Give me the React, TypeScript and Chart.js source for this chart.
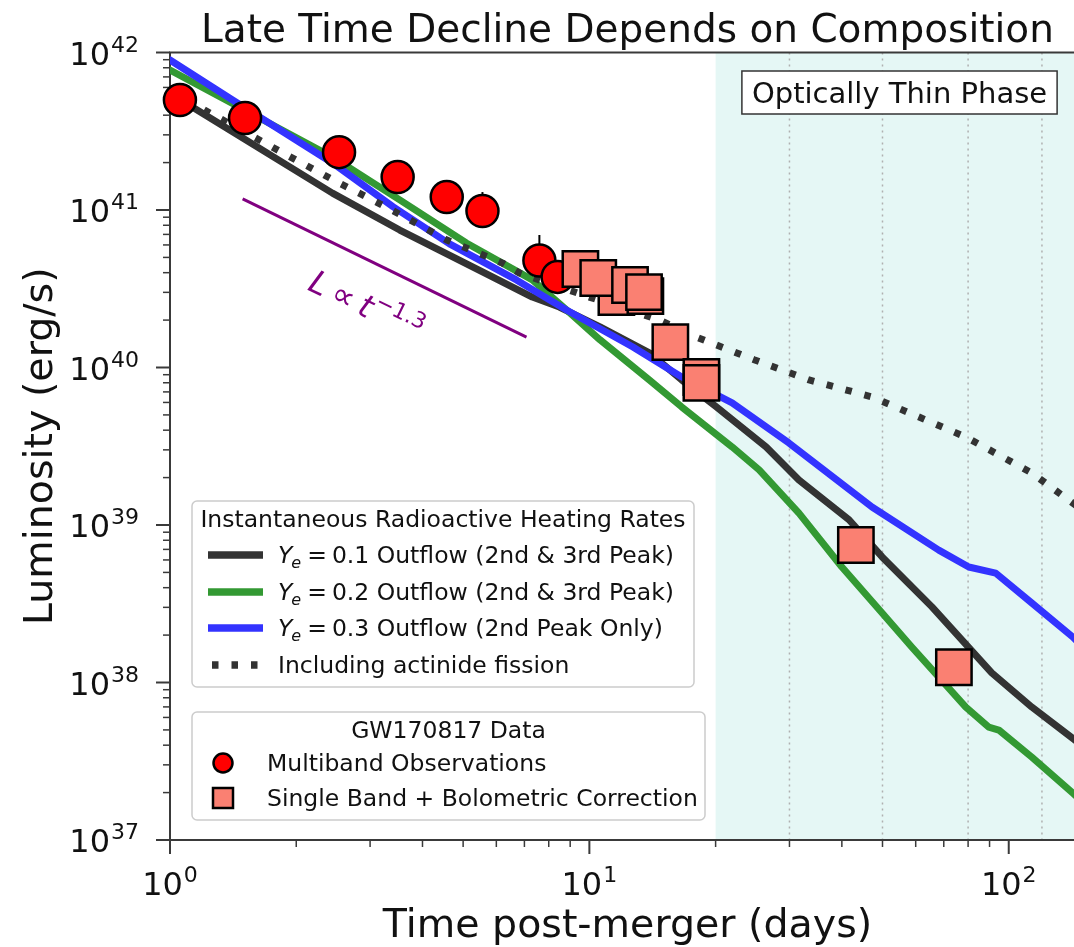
import React, { useEffect, useRef } from 'react';
import { Chart, registerables } from 'chart.js';

Chart.register(...registerables);

// ---------------- data (days, erg/s) ----------------
const ye01Days = [1, 1.13, 2.44, 3.53, 5.56, 7.31, 8.48, 10.6, 13.9, 16.6, 20.1, 26.4, 31.6, 41.6, 49.9, 65.6, 91.1, 113.5, 153];
const ye01Lum = [5.5e41, 4.51e41, 1.28e41, 7.46e40, 4.04e40, 2.8e40, 2.42e40, 1.81e40, 1.24e40, 8.34e39, 5.62e39, 3.13e39, 1.93e39, 1.08e39, 6.27e38, 3.02e38, 1.15e38, 6.98e37, 3.8e37];

const ye02Days = [1, 2.44, 3.53, 5.09, 7.31, 8.82, 10.6, 13.9, 16.6, 21.9, 25.4, 31.6, 40.0, 49.9, 58.7, 79.0, 89.6, 94.7, 113.5, 142, 153];
const ye02Lum = [7.74e41, 2.17e41, 1.16e41, 6.17e40, 3.6e40, 2.32e40, 1.5e40, 8.34e39, 5.62e39, 3.13e39, 2.24e39, 1.19e39, 5.41e38, 2.76e38, 1.68e38, 6.98e37, 5.21e37, 4.99e37, 3.36e37, 1.99e37, 1.66e37];

const ye03Days = [1, 1.41, 2.44, 3.4, 4.64, 6.7, 8.82, 12.7, 16.6, 21.9, 29.9, 47.2, 68.1, 80.3, 93.1, 113.5, 142, 153];
const ye03Lum = [8.96e41, 4.99e41, 1.99e41, 1.05e41, 6.1e40, 3.6e40, 2.32e40, 1.35e40, 8.71e39, 5.96e39, 3.32e39, 1.3e39, 6.93e38, 5.41e38, 4.95e38, 3.2e38, 1.95e38, 1.6e38];

const fissionDays = [1, 1.245, 1.86, 2.5, 3.38, 4.57, 6.21, 6.81, 10, 14.7, 18.0, 24.7, 33.4, 47.2, 79.0, 113.5, 142, 153];
const fissionLum = [5.7e41, 4.13e41, 2.3e41, 1.51e41, 1e41, 6.45e40, 4.6e40, 3.98e40, 2.8e40, 2.0e40, 1.56e40, 1.12e40, 8.34e39, 6.5e39, 3.62e39, 2.14e39, 1.38e39, 1.19e39];

const powerLawDays = [1.49, 7.08];
const powerLawLum = [1.175e41, 1.56e40];

const multibandDays = [1.056, 1.51, 2.53, 3.49, 4.57, 5.56, 7.6, 8.4];
const multibandLum = [4.99e41, 3.84e41, 2.33e41, 1.62e41, 1.21e41, 9.86e40, 4.78e40, 3.76e40];
const multibandLumUpper = [null, null, null, null, null, 1.3e41, 6.94e40, null];

const singleBandDays = [11.6, 9.52, 10.5, 12.5, 13.6, 13.5, 15.6, 18.5, 18.5, 43.2, 74.0];
const singleBandLum = [2.8e40, 4.22e40, 3.7e40, 3.34e40, 2.84e40, 3.01e40, 1.45e40, 8.7e39, 7.98e39, 7.47e38, 1.25e38];

const thinPhaseStart = 20;
const thinPhaseGuides = [30, 50, 80, 120];

const xMajorTicks = [1, 10, 100];
const xTickExponents = ['0', '1', '2'];
const yMajorTicks = [1e37, 1e38, 1e39, 1e40, 1e41, 1e42];
const yTickExponents = ['37', '38', '39', '40', '41', '42'];

const titleText = 'Late Time Decline Depends on Composition';
const xTitle = 'Time post-merger (days)';
const yTitle = 'Luminosity (erg/s)';
const phaseLabel = 'Optically Thin Phase';
const modelLegendTitle = 'Instantaneous Radioactive Heating Rates';
const yeValues = ['0.1', '0.2', '0.3'];
const yeNotes = ['Outflow (2nd & 3rd Peak)', 'Outflow (2nd & 3rd Peak)', 'Outflow (2nd Peak Only)'];
const fissionLabel = 'Including actinide fission';
const dataLegendTitle = 'GW170817 Data';
const multibandLabel = 'Multiband Observations';
const singleBandLabel = 'Single Band + Bolometric Correction';

// ---------------- style ----------------
const FONT = '"DejaVu Sans", sans-serif';
const C_BLACK = '#333333';
const C_GREEN = '#339933';
const C_BLUE = '#3333ff';
const C_PURPLE = '#800080';
const C_RED = '#ff0000';
const C_SALMON = '#fa8072';
const C_SHADE = '#e5f7f5';
const LINE_W = 7;
const DOT_DASH = [6.5, 13];
const LEG_FS = 23.5;

const pts = (xs: number[], ys: (number | null)[]) => xs.map((x, i) => ({ x, y: ys[i] as number }));

function drawPow(ctx: CanvasRenderingContext2D, exp: string, x: number, baseline: number, align: 'right' | 'center') {
  ctx.font = `32px ${FONT}`;
  const wb = ctx.measureText('10').width;
  ctx.font = `22px ${FONT}`;
  const ws = ctx.measureText(exp).width;
  const total = wb + 1 + ws;
  const x0 = align === 'right' ? x - total : x - total / 2;
  ctx.textAlign = 'left';
  ctx.textBaseline = 'alphabetic';
  ctx.fillStyle = '#111';
  ctx.font = `32px ${FONT}`;
  ctx.fillText('10', x0, baseline);
  ctx.font = `22px ${FONT}`;
  ctx.fillText(exp, x0 + wb + 1, baseline - 13);
}

function legendBox(ctx: CanvasRenderingContext2D, l: number, t: number, r: number, b: number) {
  ctx.save();
  ctx.beginPath();
  if ((ctx as any).roundRect) (ctx as any).roundRect(l, t, r - l, b - t, 5);
  else ctx.rect(l, t, r - l, b - t);
  ctx.fillStyle = 'rgba(255,255,255,0.85)';
  ctx.fill();
  ctx.strokeStyle = '#cccccc';
  ctx.lineWidth = 1.5;
  ctx.stroke();
  ctx.restore();
}

const customPlugin = {
  id: 'customDraw',
  beforeDatasetsDraw(chart: any) {
    const { ctx, chartArea: a } = chart;
    const x = chart.scales.x;
    const y = chart.scales.y;
    ctx.save();
    // shaded optically-thin region
    const xs = x.getPixelForValue(thinPhaseStart);
    ctx.fillStyle = C_SHADE;
    ctx.fillRect(xs, a.top, a.right - xs, a.bottom - a.top);
    // guide lines
    ctx.strokeStyle = '#b0b0b0';
    ctx.lineWidth = 1.5;
    ctx.setLineDash([2, 4]);
    for (const d of thinPhaseGuides) {
      const px = x.getPixelForValue(d);
      ctx.beginPath();
      ctx.moveTo(px, a.top);
      ctx.lineTo(px, a.bottom);
      ctx.stroke();
    }
    ctx.setLineDash([]);
    // error bars (upper)
    ctx.strokeStyle = '#000';
    ctx.lineWidth = 2;
    multibandDays.forEach((d, i) => {
      const up = multibandLumUpper[i];
      if (up == null) return;
      const px = x.getPixelForValue(d);
      ctx.beginPath();
      ctx.moveTo(px, y.getPixelForValue(multibandLum[i]));
      ctx.lineTo(px, y.getPixelForValue(up));
      ctx.stroke();
    });
    // spines
    ctx.strokeStyle = '#3a3a3a';
    ctx.lineWidth = 2;
    ctx.beginPath();
    ctx.moveTo(a.right + 5, a.top);
    ctx.lineTo(a.left, a.top);
    ctx.lineTo(a.left, a.bottom);
    ctx.lineTo(a.right + 5, a.bottom);
    ctx.stroke();
    // y ticks
    for (let e = 37; e <= 42; e++) {
      const py = y.getPixelForValue(Math.pow(10, e));
      ctx.lineWidth = 2;
      ctx.beginPath();
      ctx.moveTo(a.left - 14, py);
      ctx.lineTo(a.left, py);
      ctx.stroke();
      if (e < 42) {
        for (let k = 2; k <= 9; k++) {
          const pm = y.getPixelForValue(k * Math.pow(10, e));
          ctx.lineWidth = 1.5;
          ctx.beginPath();
          ctx.moveTo(a.left - 7, pm);
          ctx.lineTo(a.left, pm);
          ctx.stroke();
        }
      }
    }
    // x ticks
    for (let e = 0; e <= 2; e++) {
      const px = x.getPixelForValue(Math.pow(10, e));
      ctx.lineWidth = 2;
      ctx.beginPath();
      ctx.moveTo(px, a.bottom);
      ctx.lineTo(px, a.bottom + 14);
      ctx.stroke();
      for (let k = 2; k <= 9; k++) {
        const v = k * Math.pow(10, e);
        if (v > x.max) break;
        const pm = x.getPixelForValue(v);
        ctx.lineWidth = 1.5;
        ctx.beginPath();
        ctx.moveTo(pm, a.bottom);
        ctx.lineTo(pm, a.bottom + 7);
        ctx.stroke();
      }
    }
    // tick labels
    yMajorTicks.forEach((v, i) => drawPow(ctx, yTickExponents[i], a.left - 31, y.getPixelForValue(v) + 12, 'right'));
    xMajorTicks.forEach((v, i) => drawPow(ctx, xTickExponents[i], x.getPixelForValue(v), a.bottom + 55, 'center'));
    ctx.restore();
  },
  afterDatasetsDraw(chart: any) {
    const { ctx, chartArea: a } = chart;
    const x = chart.scales.x;
    const y = chart.scales.y;
    ctx.save();
    ctx.fillStyle = '#111';
    ctx.textBaseline = 'alphabetic';
    // title
    ctx.textAlign = 'center';
    ctx.font = `39px ${FONT}`;
    ctx.fillText(titleText, (a.left + a.right) / 2, 42);
    // x title
    ctx.font = `39.5px ${FONT}`;
    ctx.fillText(xTitle, (a.left + a.right) / 2, 937);
    // y title
    ctx.save();
    ctx.translate(52, (a.top + a.bottom) / 2);
    ctx.rotate(-Math.PI / 2);
    ctx.fillText(yTitle, 0, 0);
    ctx.restore();

    // optically thin phase box
    ctx.font = `29px ${FONT}`;
    const tw = ctx.measureText(phaseLabel).width;
    const bx = 899.5;
    const by = 92.5;
    ctx.fillStyle = '#ffffff';
    ctx.fillRect(bx - tw / 2 - 10, by - 21.5, tw + 20, 43);
    ctx.strokeStyle = '#333';
    ctx.lineWidth = 1.5;
    ctx.strokeRect(bx - tw / 2 - 10, by - 21.5, tw + 20, 43);
    ctx.fillStyle = '#111';
    ctx.fillText(phaseLabel, bx, by + 10.5);

    // power law annotation
    const p0x = x.getPixelForValue(powerLawDays[0]);
    const p0y = y.getPixelForValue(powerLawLum[0]);
    const p1x = x.getPixelForValue(powerLawDays[1]);
    const p1y = y.getPixelForValue(powerLawLum[1]);
    const ang = Math.atan2(p1y - p0y, p1x - p0x);
    ctx.save();
    ctx.translate(366, 306);
    ctx.rotate(ang);
    ctx.fillStyle = C_PURPLE;
    ctx.textAlign = 'left';
    const big = 32;
    const sm = 22;
    ctx.font = `italic ${big}px ${FONT}`;
    const wL = ctx.measureText('L').width;
    const wt = ctx.measureText('t').width;
    ctx.font = `${big}px ${FONT}`;
    const wP = ctx.measureText('\u221d').width;
    ctx.font = `${sm}px ${FONT}`;
    const wS = ctx.measureText('\u22121.3').width;
    const sp = big * 0.22;
    const total = wL + sp + wP + sp + wt + 1 + wS;
    let cx = -total / 2;
    const bl = 11;
    ctx.font = `italic ${big}px ${FONT}`;
    ctx.fillText('L', cx, bl);
    cx += wL + sp;
    ctx.font = `${big}px ${FONT}`;
    ctx.fillText('\u221d', cx, bl);
    cx += wP + sp;
    ctx.font = `italic ${big}px ${FONT}`;
    ctx.fillText('t', cx, bl);
    cx += wt + 1;
    ctx.font = `${sm}px ${FONT}`;
    ctx.fillText('\u22121.3', cx, bl - 14);
    ctx.restore();

    // ---- legend 1 ----
    legendBox(ctx, 192, 501, 694, 687);
    ctx.fillStyle = '#111';
    ctx.textAlign = 'center';
    ctx.font = `${LEG_FS}px ${FONT}`;
    ctx.fillText(modelLegendTitle, 443, 527);
    const rows = [555, 592, 628, 665];
    const lineColors = [C_BLACK, C_GREEN, C_BLUE];
    ctx.textAlign = 'left';
    for (let i = 0; i < 3; i++) {
      const ry = rows[i];
      ctx.strokeStyle = lineColors[i];
      ctx.lineWidth = 7.5;
      ctx.lineCap = 'butt';
      ctx.beginPath();
      ctx.moveTo(208, ry);
      ctx.lineTo(263, ry);
      ctx.stroke();
      const base = ry + 8;
      let tx = 278;
      ctx.fillStyle = '#111';
      ctx.font = `italic ${LEG_FS}px ${FONT}`;
      ctx.fillText('Y', tx, base);
      tx += ctx.measureText('Y').width;
      ctx.font = `italic 16px ${FONT}`;
      ctx.fillText('e', tx - 1, base + 5);
      tx += ctx.measureText('e').width + 5;
      ctx.font = `${LEG_FS}px ${FONT}`;
      ctx.fillText('=', tx, base);
      tx += ctx.measureText('=').width + 5;
      ctx.fillText(`${yeValues[i]} ${yeNotes[i]}`, tx, base);
    }
    ctx.strokeStyle = C_BLACK;
    ctx.lineWidth = 7.5;
    ctx.setLineDash(DOT_DASH);
    ctx.beginPath();
    ctx.moveTo(212, rows[3]);
    ctx.lineTo(263, rows[3]);
    ctx.stroke();
    ctx.setLineDash([]);
    ctx.fillStyle = '#111';
    ctx.font = `${LEG_FS}px ${FONT}`;
    ctx.fillText(fissionLabel, 278, rows[3] + 8);

    // ---- legend 2 ----
    legendBox(ctx, 192, 712, 705, 820);
    ctx.textAlign = 'center';
    ctx.fillText(dataLegendTitle, 448.5, 738);
    ctx.textAlign = 'left';
    ctx.beginPath();
    ctx.arc(223, 763, 9.5, 0, Math.PI * 2);
    ctx.fillStyle = C_RED;
    ctx.fill();
    ctx.strokeStyle = '#000';
    ctx.lineWidth = 2.5;
    ctx.stroke();
    ctx.fillStyle = C_SALMON;
    ctx.fillRect(213, 788, 20, 20);
    ctx.strokeRect(213, 788, 20, 20);
    ctx.fillStyle = '#111';
    ctx.fillText(multibandLabel, 267, 771);
    ctx.fillText(singleBandLabel, 267, 806);
    ctx.restore();
  },
};

export default function App() {
  const ref = useRef<HTMLCanvasElement>(null);
  useEffect(() => {
    if (!ref.current) return;
    const lineDs = (label: string, xs: number[], ys: number[], color: string, order: number, dash?: number[]) => ({
      label,
      data: pts(xs, ys),
      showLine: true,
      borderColor: color,
      backgroundColor: color,
      borderWidth: LINE_W,
      borderDash: dash || [],
      borderCapStyle: dash ? 'butt' : 'round',
      borderJoinStyle: 'round',
      pointRadius: 0,
      tension: 0,
      order,
    });
    const chart = new Chart(ref.current, {
      type: 'scatter',
      data: {
        datasets: [
          {
            label: singleBandLabel,
            data: pts(singleBandDays, singleBandLum),
            pointStyle: 'rect',
            pointRadius: 25,
            backgroundColor: C_SALMON,
            borderColor: '#000',
            borderWidth: 2.5,
            showLine: false,
            clip: false,
            order: 0,
          } as any,
          {
            label: multibandLabel,
            data: pts(multibandDays, multibandLum),
            pointStyle: 'circle',
            pointRadius: 16,
            backgroundColor: C_RED,
            borderColor: '#000',
            borderWidth: 2.5,
            showLine: false,
            clip: false,
            order: 1,
          } as any,
          {
            label: 'L \u221d t^-1.3',
            data: pts(powerLawDays, powerLawLum),
            showLine: true,
            borderColor: C_PURPLE,
            borderWidth: 3,
            pointRadius: 0,
            order: 2,
          } as any,
          lineDs(fissionLabel, fissionDays, fissionLum, C_BLACK, 3, DOT_DASH),
          lineDs('Ye = 0.3', ye03Days, ye03Lum, C_BLUE, 4),
          lineDs('Ye = 0.2', ye02Days, ye02Lum, C_GREEN, 5),
          lineDs('Ye = 0.1', ye01Days, ye01Lum, C_BLACK, 6),
        ],
      },
      options: {
        animation: false,
        responsive: false,
        devicePixelRatio: 1,
        events: [],
        layout: { autoPadding: false, padding: { left: 170, top: 52.5, right: 5, bottom: 107 } },
        scales: {
          x: { type: 'logarithmic', min: 1, max: 152, bounds: 'data', display: false },
          y: { type: 'logarithmic', min: 1e37, max: 1e42, bounds: 'data', display: false },
        },
        plugins: {
          legend: { display: false },
          tooltip: { enabled: false },
          title: { display: false },
        },
      } as any,
      plugins: [customPlugin],
    });
    return () => chart.destroy();
  }, []);
  return (
    <div style={{ position: 'fixed', left: 0, top: 0, width: 1074, height: 947, overflow: 'hidden', background: '#fff' }}>
      <canvas ref={ref} width={1090} height={947} style={{ display: 'block', width: 1090, height: 947 }} />
    </div>
  );
}
